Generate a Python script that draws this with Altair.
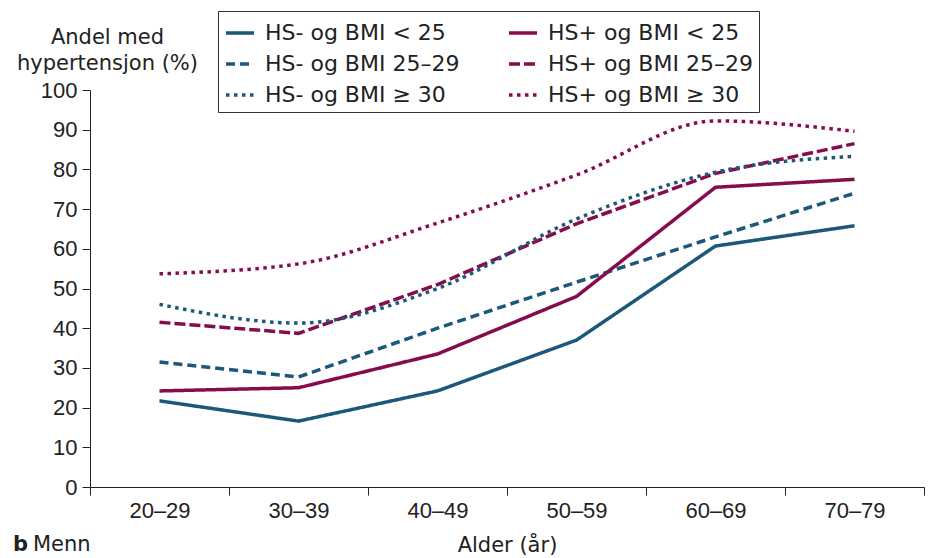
import altair as alt
import pandas as pd

ages = ["20–29", "30–39", "40–49", "50–59", "60–69", "70–79"]
series = [
    "HS- og BMI < 25", "HS- og BMI 25–29", "HS- og BMI ≥ 30",
    "HS+ og BMI < 25", "HS+ og BMI 25–29", "HS+ og BMI ≥ 30",
]
hs_minus_lt25 = [21.7, 16.6, 24.2, 37.0, 60.7, 65.8]
hs_minus_2529 = [31.5, 27.7, 40.0, 51.6, 63.0, 74.0]
hs_minus_ge30 = [46.0, 41.3, 50.0, 67.5, 79.3, 83.3]
hs_plus_lt25 = [24.2, 25.0, 33.5, 48.0, 75.5, 77.5]
hs_plus_2529 = [41.5, 38.7, 51.0, 66.3, 79.0, 86.5]
hs_plus_ge30 = [53.7, 56.2, 66.5, 78.6, 92.2, 89.6]

values = [hs_minus_lt25, hs_minus_2529, hs_minus_ge30, hs_plus_lt25, hs_plus_2529, hs_plus_ge30]
rows = []
for s, vals in zip(series, values):
    for a, v in zip(ages, vals):
        rows.append({"Alder": a, "Andel": v, "Gruppe": s,
                     "dotted": "≥ 30" in s})
df = pd.DataFrame(rows)

BLUE = "#1b5879"
RED = "#870c4e"
colors = [BLUE, BLUE, BLUE, RED, RED, RED]
dashes = [[1, 0], [9, 5], [3.5, 4.5], [1, 0], [11, 4], [3.5, 4.5]]
FONT = "DejaVu Sans"
NUM = "Liberation Sans"
TXT = "#222"

color_enc = alt.Color("Gruppe:N", sort=series,
                      scale=alt.Scale(domain=series, range=colors),
                      legend=alt.Legend(
                          title=None, orient="none", legendX=128, legendY=-79,
                          columns=2, symbolType="stroke", symbolSize=784,
                          symbolStrokeWidth=3.5, labelFontSize=22, labelFont=FONT,
                          labelColor=TXT, columnPadding=32, rowPadding=4,
                          padding=6, strokeColor="#333", fillColor="white",
                          labelLimit=300, symbolOffset=0, labelOffset=9,
                          gridAlign="all"))
dash_enc = alt.StrokeDash("Gruppe:N", sort=series,
                          scale=alt.Scale(domain=series, range=dashes))

x_enc = alt.X("Alder:N", sort=ages, scale=alt.Scale(domain=ages, paddingInner=0, paddingOuter=0),
              axis=alt.Axis(title="Alder (år)", labelAngle=0, labelFontSize=22,
                            labelFont=NUM, titleFont=FONT,
                            titleFontSize=21, titleFontWeight="normal", labelColor=TXT,
                            titleColor=TXT, labelPadding=5, tickSize=8, tickBand="extent",
                            domainColor=TXT, tickColor=TXT, titleY=64,
                            titleBaseline="alphabetic", grid=False))
y_enc = alt.Y("Andel:Q", scale=alt.Scale(domain=[0, 100], nice=False),
              axis=alt.Axis(title=["Andel med", "hypertensjon (%)"], titleAngle=0,
                            titleAlign="center", titleX=17, titleY=-47,
                            titleBaseline="alphabetic", titleFontSize=21,
                            titleFont=FONT, titleFontWeight="normal", titleColor=TXT,
                            titleLineHeight=26,
                            values=list(range(0, 101, 10)), labelFontSize=22,
                            labelFont=NUM, labelColor=TXT, tickSize=8,
                            labelPadding=5, domainColor=TXT, tickColor=TXT,
                            grid=False))

base = alt.Chart(df).encode(x=x_enc, y=y_enc, color=color_enc, strokeDash=dash_enc)
straight = base.transform_filter("!datum.dotted").mark_line(strokeWidth=3.5)
curved = base.transform_filter("datum.dotted").mark_line(strokeWidth=3.5, interpolate="monotone")

lab = pd.DataFrame({"t": ["b"]})
b_text = alt.Chart(lab).mark_text(align="left", baseline="alphabetic", fontSize=21,
                                  fontWeight="bold", font=FONT, color=TXT).encode(
    x=alt.value(-77), y=alt.value(461), text="t:N")
lab2 = pd.DataFrame({"t": ["Menn"]})
m_text = alt.Chart(lab2).mark_text(align="left", baseline="alphabetic", fontSize=21,
                                   font=FONT, color=TXT).encode(
    x=alt.value(-57), y=alt.value(461), text="t:N")

chart = alt.layer(straight, curved, b_text, m_text).properties(
    width=834, height=397,
    autosize=alt.AutoSizeParams(type="none"),
    padding={"left": 82, "top": 82, "right": 2, "bottom": 80},
).configure_view(stroke=None)

chart.save("out.html", embed_options={"renderer": "svg", "actions": False})
